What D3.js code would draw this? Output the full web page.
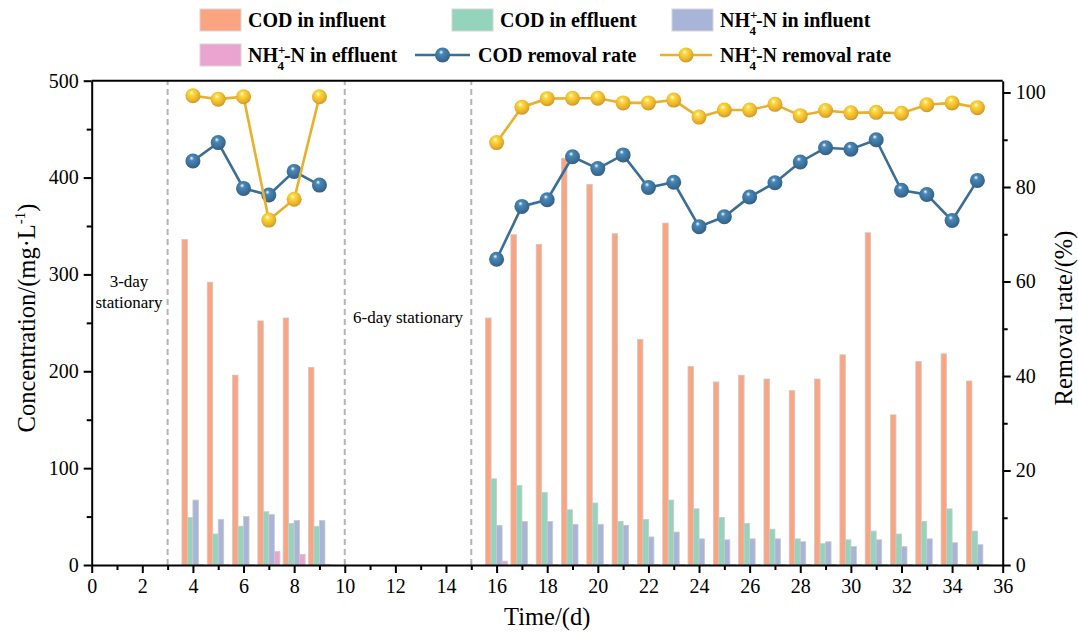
<!DOCTYPE html>
<html>
<head>
<meta charset="utf-8">
<script src="https://cdn.jsdelivr.net/npm/d3@7"></script>
<style>
  body { margin: 0; background: #fff; }
  svg { display: block; }
  svg text { font-family: "Liberation Serif", "Times New Roman", serif; }
</style>
</head>
<body>
<svg id="chart" width="1078" height="633"></svg>
<script>
"use strict";
// Days with measurements
const days = [4, 5, 6, 7, 8, 9, 16, 17, 18, 19, 20, 21, 22, 23, 24, 25, 26, 27, 28, 29, 30, 31, 32, 33, 34, 35];
// Concentrations, mg/L
const codInfluent = [336, 292, 196, 252, 255, 204, 255, 341, 331, 420, 393, 342, 233, 353, 205, 189, 196, 192, 180, 192, 217, 343, 155, 210, 218, 190];
const codEffluent = [49, 32, 40, 55, 43, 40, 89, 82, 75, 57, 64, 45, 47, 67, 58, 49, 43, 37, 27, 22, 26, 35, 32, 45, 58, 35];
const nh4Influent = [67, 47, 50, 52, 46, 46, 41, 45, 45, 42, 42, 41, 29, 34, 27, 26, 27, 27, 24, 24, 19, 26, 19, 27, 23, 21];
const nh4Effluent = [0.5, 0.5, 0.5, 14, 11, 0.5, 4, 0.8, 0.5, 0.5, 0.5, 0.5, 0.5, 0.5, 0.5, 0.5, 0.5, 0.5, 0.5, 0.5, 0.5, 0.5, 0.5, 0.5, 0.5, 0.5];
// Removal rates, %
const codRemoval = [85.5, 89.4, 79.7, 78.3, 83.3, 80.4, 64.7, 75.9, 77.3, 86.4, 83.9, 86.8, 79.9, 81.0, 71.6, 73.7, 77.9, 80.9, 85.3, 88.3, 88.0, 90.0, 79.3, 78.4, 72.9, 81.4];
const nh4Removal = [99.3, 98.6, 99.1, 73.0, 77.4, 99.1, 89.4, 96.9, 98.7, 98.8, 98.8, 97.8, 97.8, 98.4, 94.8, 96.3, 96.3, 97.5, 95.1, 96.2, 95.7, 95.8, 95.6, 97.4, 97.8, 96.8];
// Run segments (continuous lines)
const segments = [[4, 9], [16, 35]];
const stationaryLines = [3, 10, 15];

const barValues = [codInfluent, codEffluent, nh4Influent, nh4Effluent];
const barColors = ["#fba482", "#94d3bc", "#a8b4d8", "#eba4d0"];
const lineColors = { cod: "#3a6e96", nh4: "#e9b02d" };
const serif = "'Liberation Serif', 'Times New Roman', serif";

const margin = { left: 91.7, top: 80.7 };
const svg = d3.select("#chart");

const x = d3.scaleLinear().domain([0, 36]).range([margin.left, 1002.7]);
const y = d3.scaleLinear().domain([0, 500]).range([565, margin.top]);
const yR = d3.scaleLinear().domain([0, 102.5]).range([565, margin.top]);
const sub = d3.scaleBand().domain(d3.range(4)).range([-11, 11]);

// gradients for the ball markers
const defs = svg.append("defs");
function ballGradient(id, base) {
  const g = defs.append("radialGradient").attr("id", id)
    .attr("cx", "45%").attr("cy", "40%").attr("r", "60%").attr("fx", "40%").attr("fy", "30%");
  g.append("stop").attr("offset", "0%").attr("stop-color", "#ffffff");
  g.append("stop").attr("offset", "25%").attr("stop-color", d3.color(base).brighter(0.6));
  g.append("stop").attr("offset", "75%").attr("stop-color", base);
  g.append("stop").attr("offset", "100%").attr("stop-color", d3.color(base).darker(0.4));
}
ballGradient("ballCod", lineColors.cod);
ballGradient("ballNh4", lineColors.nh4);

// stationary dashed lines
svg.append("g").selectAll("line").data(stationaryLines).join("line")
  .attr("x1", (d) => x(d)).attr("x2", (d) => x(d))
  .attr("y1", y(0)).attr("y2", margin.top)
  .attr("stroke", "#b4b4b4").attr("stroke-width", 2).attr("stroke-dasharray", "6,4");

// bars
const barData = [];
days.forEach((d, i) => barValues.forEach((vals, s) => barData.push({ day: d, s, v: vals[i] })));
svg.append("g").selectAll("rect").data(barData).join("rect")
  .attr("x", (d) => x(d.day) + sub(d.s))
  .attr("width", sub.bandwidth())
  .attr("y", (d) => y(d.v))
  .attr("height", (d) => y(0) - y(d.v))
  .attr("fill", (d) => barColors[d.s])
  .attr("stroke", "#cacaca").attr("stroke-width", 0.8);

// removal lines
function drawRate(values, color, grad) {
  const pts = days.map((d, i) => ({ day: d, v: values[i] }));
  const line = d3.line().x((d) => x(d.day)).y((d) => yR(d.v));
  const g = svg.append("g");
  segments.forEach(([a, b]) => {
    g.append("path").datum(pts.filter((p) => p.day >= a && p.day <= b))
      .attr("d", line).attr("fill", "none").attr("stroke", color).attr("stroke-width", 2.6);
  });
  g.selectAll("circle").data(pts).join("circle")
    .attr("cx", (d) => x(d.day)).attr("cy", (d) => yR(d.v)).attr("r", 7.5)
    .attr("fill", `url(#${grad})`);
}
drawRate(codRemoval, lineColors.cod, "ballCod");
drawRate(nh4Removal, lineColors.nh4, "ballNh4");

// frame top line
svg.append("line").attr("x1", x(0)).attr("x2", x(36)).attr("y1", margin.top).attr("y2", margin.top)
  .attr("stroke", "#000").attr("stroke-width", 2);

// axes
function styleAxis(g) {
  g.attr("font-family", null);
  g.select(".domain").attr("stroke-width", 2);
  g.selectAll(".tick line").attr("stroke-width", 2);
  g.selectAll(".tick text").attr("font-size", 20).style("font-family", serif).attr("fill", "#000");
}
function minor(g) {
  g.select(".domain").remove();
  g.selectAll(".tick line").attr("stroke-width", 2);
}
svg.append("g").attr("transform", `translate(0,${y(0)})`)
  .call(d3.axisBottom(x).tickValues(d3.range(1, 36, 2)).tickSize(5).tickFormat(""))
  .call(minor);
svg.append("g").attr("transform", `translate(${x(0)},0)`)
  .call(d3.axisLeft(y).tickValues(d3.range(50, 500, 100)).tickSize(5).tickFormat(""))
  .call(minor);
svg.append("g").attr("transform", `translate(${x(36)},0)`)
  .call(d3.axisRight(yR).tickValues(d3.range(10, 101, 20)).tickSize(5).tickFormat(""))
  .call(minor);

svg.append("g").attr("transform", `translate(0,${y(0)})`)
  .call(d3.axisBottom(x).tickValues(d3.range(0, 37, 2)).tickSize(8).tickPadding(6).tickSizeOuter(0))
  .call(styleAxis);
svg.append("g").attr("transform", `translate(${x(0)},0)`)
  .call(d3.axisLeft(y).ticks(5).tickSize(8).tickPadding(5).tickSizeOuter(0))
  .call(styleAxis);
svg.append("g").attr("transform", `translate(${x(36)},0)`)
  .call(d3.axisRight(yR).tickValues(d3.range(0, 101, 20)).tickSize(8).tickPadding(5).tickSizeOuter(0))
  .call(styleAxis);

// axis titles
svg.append("text").attr("x", (x(0) + x(36)) / 2).attr("y", 625).attr("text-anchor", "middle")
  .attr("font-size", 24.5).text("Time/(d)");
const yl = svg.append("text").attr("transform", "translate(35,318) rotate(-90)").attr("text-anchor", "middle")
  .attr("font-size", 24.5);
yl.append("tspan").text("Concentration/(mg\u00b7L");
yl.append("tspan").attr("font-size", 15).attr("dy", -10).text("-1");
yl.append("tspan").attr("dy", 10).text(")");
svg.append("text").attr("transform", "translate(1072,318) rotate(-90)").attr("text-anchor", "middle")
  .attr("font-size", 24.5).text("Removal rate/(%)");

// annotations
const ann = svg.append("g").attr("font-size", 17).attr("text-anchor", "middle");
ann.append("text").attr("x", 129).attr("y", 287).text("3-day");
ann.append("text").attr("x", 129).attr("y", 308).text("stationary");
ann.append("text").attr("x", 408).attr("y", 323).text("6-day stationary");

// legend
const legend = svg.append("g").attr("font-size", 20).attr("font-weight", "bold");
function nh4Label(t, rest) {
  t.append("tspan").text("NH");
  t.append("tspan").attr("font-size", 13).attr("dy", -8).text("+");
  t.append("tspan").attr("font-size", 13).attr("dx", -8).attr("dy", 16).text("4");
  t.append("tspan").attr("dy", -8).text("-N " + rest);
}
const legendItems = [
  { type: "rect", color: barColors[0], sx: 200, tx: 248, row: 0, label: "COD in influent" },
  { type: "rect", color: barColors[1], sx: 452, tx: 500, row: 0, label: "COD in effluent" },
  { type: "rect", color: barColors[2], sx: 672, tx: 720, row: 0, nh4: "in influent" },
  { type: "rect", color: barColors[3], sx: 200, tx: 248, row: 1, nh4: "in effluent" },
  { type: "line", color: lineColors.cod, grad: "ballCod", sx: 415, tx: 478, row: 1, label: "COD removal rate" },
  { type: "line", color: lineColors.nh4, grad: "ballNh4", sx: 660, tx: 720, row: 1, nh4: "removal rate" },
];
const rowY = [20, 55];
legendItems.forEach((d) => {
  const cy = rowY[d.row];
  if (d.type === "rect") {
    legend.append("rect").attr("x", d.sx).attr("y", cy - 11).attr("width", 41).attr("height", 22)
      .attr("fill", d.color).attr("stroke", "#d6d6d6").attr("stroke-width", 1);
  } else {
    legend.append("line").attr("x1", d.sx).attr("x2", d.tx - 8).attr("y1", cy).attr("y2", cy)
      .attr("stroke", d.color).attr("stroke-width", 2.6);
    legend.append("circle").attr("cx", (d.sx + d.tx - 8) / 2).attr("cy", cy).attr("r", 7.5)
      .attr("fill", `url(#${d.grad})`);
  }
  const t = legend.append("text").attr("x", d.tx).attr("y", cy + 7);
  if (d.nh4) nh4Label(t, d.nh4); else t.text(d.label);
});
</script>
</body>
</html>
